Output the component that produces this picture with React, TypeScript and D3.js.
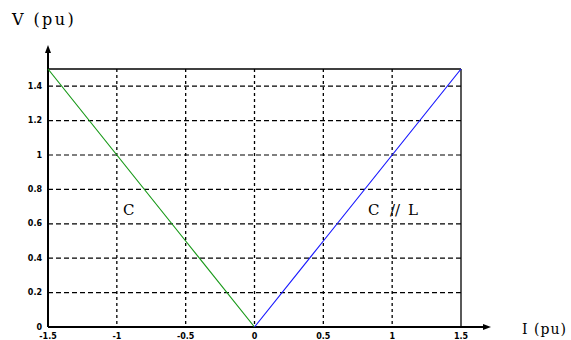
import React from "react";
import * as d3 from "d3";

const xTicks = [-1.5, -1, -0.5, 0, 0.5, 1, 1.5];
const xTickLabels = ["-1.5", "-1", "-0.5", "0", "0.5", "1", "1.5"];
const yTicks = [0, 0.2, 0.4, 0.6, 0.8, 1, 1.2, 1.4];
const yTickLabels = ["0", "0.2", "0.4", "0.6", "0.8", "1", "1.2", "1.4"];

const capI = [-1.5, -1, -0.5, 0];
const capV = [1.5, 1, 0.5, 0];
const indI = [0, 0.5, 1, 1.5];
const indV = [0, 0.5, 1, 1.5];

const W = 571;
const H = 340;

export default function App() {
  const x = d3.scaleLinear().domain([-1.5, 1.5]).range([48, 461]);
  const y = d3.scaleLinear().domain([0, 1.5]).range([327, 69]);
  const line = d3
    .line<[number, number]>()
    .x((d) => x(d[0]))
    .y((d) => y(d[1]));
  const capPts = capI.map((v, i) => [v, capV[i]] as [number, number]);
  const indPts = indI.map((v, i) => [v, indV[i]] as [number, number]);
  const serif = "'DejaVu Serif', 'Liberation Serif', serif";
  const tickFont = "'DejaVu Sans', Arial, sans-serif";

  return (
    <svg
      width={W}
      height={H}
      style={{ position: "absolute", left: 0, top: 0, background: "#fff" }}
    >
      {/* grid */}
      {xTicks.slice(1, -1).map((t) => (
        <line
          key={"gx" + t}
          x1={x(t)}
          x2={x(t)}
          y1={y(1.5)}
          y2={y(0)}
          stroke="#000"
          strokeWidth={1.3}
          strokeDasharray="3,3"
        />
      ))}
      {yTicks.slice(1).map((t) => (
        <line
          key={"gy" + t}
          x1={x(-1.5)}
          x2={x(1.5)}
          y1={y(t)}
          y2={y(t)}
          stroke="#000"
          strokeWidth={1.2}
          strokeDasharray="5,3"
        />
      ))}
      {/* frame */}
      <line x1={x(-1.5)} x2={x(1.5)} y1={y(1.5)} y2={y(1.5)} stroke="#000" strokeWidth={1.3} />
      <line x1={x(1.5)} x2={x(1.5)} y1={y(1.5)} y2={y(0)} stroke="#000" strokeWidth={1.3} />
      {/* axes with arrows */}
      <line x1={x(-1.5)} x2={x(-1.5)} y1={y(0)} y2={50} stroke="#000" strokeWidth={2} />
      <path d={`M${x(-1.5) - 3},${53} L${x(-1.5)},${45} L${x(-1.5) + 3},${53} Z`} fill="#000" />
      <line x1={x(-1.5)} x2={486} y1={y(0)} y2={y(0)} stroke="#000" strokeWidth={2} />
      <path d={`M${483},${y(0) - 3} L${491},${y(0)} L${483},${y(0) + 3} Z`} fill="#000" />
      {/* curves */}
      <path d={line(capPts) ?? ""} fill="none" stroke="#1a9a1a" strokeWidth={1.2} />
      <path d={line(indPts) ?? ""} fill="none" stroke="#1a1aff" strokeWidth={1.2} />
      {/* tick labels */}
      {yTicks.map((t, i) => (
        <text
          key={"ty" + t}
          x={x(-1.5) - 6}
          y={y(t) + 2.5}
          textAnchor="end"
          fontFamily={tickFont}
          fontSize={8}
          fontWeight="bold"
        >
          {yTickLabels[i]}
        </text>
      ))}
      {xTicks.map((t, i) => (
        <text
          key={"tx" + t}
          x={x(t)}
          y={y(0) + 11.5}
          textAnchor="middle"
          fontFamily={tickFont}
          fontSize={8}
          fontWeight="bold"
        >
          {xTickLabels[i]}
        </text>
      ))}
      {/* axis titles */}
      <text x={12} y={25} fontFamily={serif} fontSize={16} letterSpacing={2.4}>
        V (pu)
      </text>
      <text x={522} y={334} fontFamily={serif} fontSize={14} letterSpacing={1}>
        I (pu)
      </text>
      {/* curve labels */}
      <text x={123} y={215} fontFamily={serif} fontSize={15}>
        C
      </text>
      <text y={215} fontFamily={serif} fontSize={15}>
        <tspan x={368}>C</tspan>
        <tspan x={390}>//</tspan>
        <tspan x={408}>L</tspan>
      </text>
    </svg>
  );
}
